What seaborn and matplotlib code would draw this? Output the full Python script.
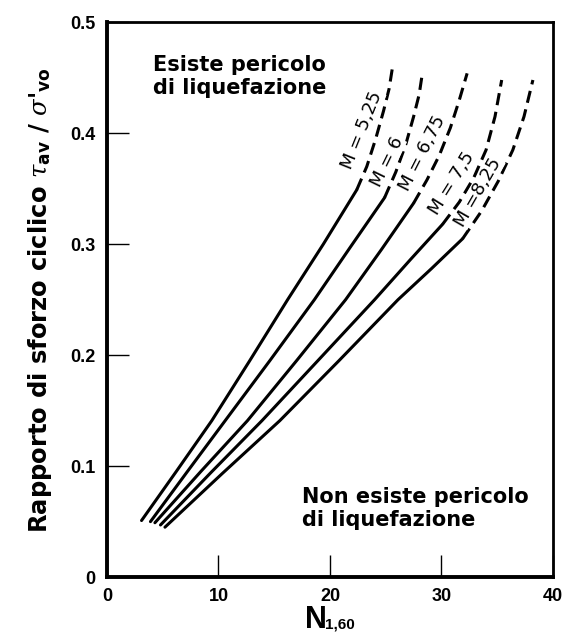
import numpy as np
import pandas as pd
import matplotlib
matplotlib.use('Agg')
import matplotlib.pyplot as plt
import seaborn as sns

# =============================================================================
# Data (N1,60 vs cyclic stress ratio)
# =============================================================================
magnitudes = ['M = 5,25', 'M = 6', 'M = 6,75', 'M = 7,5', 'M =8,25']

solid_n = [
    [3.1, 6.2, 9.4, 12.8, 16.2, 19.4, 22.4],
    [3.9, 7.2, 10.6, 14.6, 18.6, 21.8, 24.9],
    [4.3, 8.4, 12.6, 17.0, 21.4, 24.6, 27.5],
    [4.8, 9.3, 13.9, 19.0, 24.0, 27.2, 30.1],
    [5.2, 10.3, 15.5, 20.8, 26.1, 29.1, 31.9],
]
solid_r = [
    [0.051, 0.095, 0.141, 0.195, 0.250, 0.300, 0.349],
    [0.050, 0.095, 0.141, 0.195, 0.250, 0.297, 0.342],
    [0.049, 0.095, 0.141, 0.195, 0.250, 0.295, 0.337],
    [0.047, 0.094, 0.141, 0.196, 0.250, 0.286, 0.318],
    [0.045, 0.093, 0.141, 0.195, 0.250, 0.278, 0.305],
]
dashed_n = [
    [22.4, 23.3, 24.1, 24.8, 25.3, 25.6],
    [24.9, 25.9, 26.8, 27.5, 28.0, 28.3],
    [27.5, 28.7, 29.8, 30.8, 31.6, 32.3],
    [30.1, 31.6, 32.9, 34.0, 34.8, 35.4],
    [31.9, 33.6, 35.1, 36.4, 37.4, 38.2],
]
dashed_r = [
    [0.349, 0.370, 0.395, 0.420, 0.440, 0.459],
    [0.342, 0.365, 0.390, 0.415, 0.435, 0.455],
    [0.337, 0.358, 0.380, 0.405, 0.430, 0.454],
    [0.318, 0.338, 0.360, 0.385, 0.415, 0.448],
    [0.305, 0.330, 0.357, 0.385, 0.415, 0.448],
]

# label positions along the curves
label_n = [22.9, 25.1, 28.3, 30.9, 33.3]
label_r = [0.403, 0.374, 0.382, 0.355, 0.347]
label_rot = [68, 64, 63, 58, 60]

x_ticks = [0, 10, 20, 30, 40]
y_ticks = [0, 0.1, 0.2, 0.3, 0.4, 0.5]
y_tick_labels = ['0', '0.1', '0.2', '0.3', '0.4', '0.5']

# =============================================================================
# Plot
# =============================================================================
sns.set_style('white')
plt.rcParams['font.family'] = ['DejaVu Sans']
plt.rcParams['text.color'] = 'black'
plt.rcParams['axes.labelcolor'] = 'black'
plt.rcParams['xtick.color'] = 'black'
plt.rcParams['ytick.color'] = 'black'
plt.rcParams['mathtext.fontset'] = 'custom'
plt.rcParams['mathtext.rm'] = 'DejaVu Sans:bold'
plt.rcParams['mathtext.bf'] = 'DejaVu Sans:bold'
plt.rcParams['mathtext.it'] = 'DejaVu Serif:italic'

fig = plt.figure(figsize=(5.66, 6.37), dpi=100)
ax = fig.add_axes([0.189, 0.094, 0.788, 0.871])

for i, m in enumerate(magnitudes):
    solid = pd.DataFrame({'n': solid_n[i], 'r': solid_r[i]})
    dashed = pd.DataFrame({'n': dashed_n[i], 'r': dashed_r[i]})
    sns.lineplot(data=solid, x='n', y='r', color='black', lw=2.2,
                 sort=False, estimator=None, ax=ax)
    line = sns.lineplot(data=dashed, x='n', y='r', color='black', lw=2.2,
                        sort=False, estimator=None, ax=ax)
    line.lines[-1].set_dashes([4, 2.2])
    ax.text(label_n[i], label_r[i], m, rotation=label_rot[i],
            ha='center', va='center', fontsize=13, color='black',
            rotation_mode='anchor',
            bbox=dict(facecolor='white', edgecolor='none', pad=0.2))

ax.text(4.1, 0.451, 'Esiste pericolo\ndi liquefazione', fontsize=15,
        fontweight='bold', ha='left', va='center', linespacing=1.2)
ax.text(17.5, 0.062, 'Non esiste pericolo\ndi liquefazione', fontsize=15,
        fontweight='bold', ha='left', va='center', linespacing=1.2)

ax.set_xlim(0, 40)
ax.set_ylim(0, 0.5)
ax.set_xticks(x_ticks)
ax.set_xticklabels([str(t) for t in x_ticks])
ax.set_yticks(y_ticks)
ax.set_yticklabels(y_tick_labels)
ax.tick_params(direction='in', length=16, width=1, color='black',
               left=True, bottom=True, pad=8)
for lbl in ax.get_xticklabels() + ax.get_yticklabels():
    lbl.set_fontfamily('Liberation Sans')
    lbl.set_fontsize(13)
    lbl.set_fontweight('bold')

for side in ['left', 'bottom']:
    ax.spines[side].set_linewidth(2.8)
for side in ['top', 'right']:
    ax.spines[side].set_linewidth(2.0)
for s in ax.spines.values():
    s.set_color('black')

# x label: big N with small subscript
ax.set_xlabel('')
fig.text(0.538, 0.014, 'N', fontsize=22, fontweight='bold',
         family='Liberation Sans', ha='left', va='baseline')
fig.text(0.575, 0.014, '1,60', fontsize=11, fontweight='bold',
         family='Liberation Sans', ha='left', va='baseline')

ax.set_ylabel(r"Rapporto di sforzo ciclico $\tau_{\mathrm{av}}$ / "
              r"$\sigma$'$_{\mathrm{vo}}$",
              fontsize=17.5, fontweight='bold', labelpad=12)

fig.savefig('out.png', dpi=100)
